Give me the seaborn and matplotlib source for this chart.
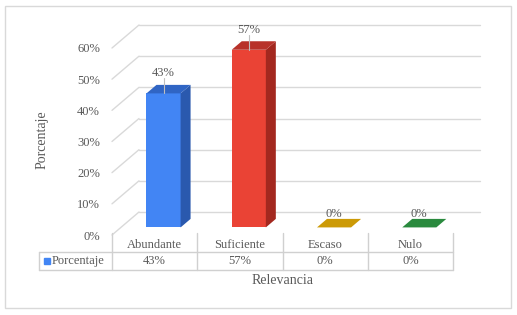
import numpy as np
import pandas as pd
import matplotlib
matplotlib.use("Agg")
import matplotlib.pyplot as plt
import seaborn as sns
from matplotlib.patches import Polygon, Rectangle
from matplotlib.lines import Line2D
from matplotlib.transforms import ScaledTranslation

# ---------------- data ----------------
categories = ["Abundante", "Suficiente", "Escaso", "Nulo"]
values = [0.43, 0.57, 0.0, 0.0]
value_labels = ["43%", "57%", "0%", "0%"]
y_ticks = [0.0, 0.1, 0.2, 0.3, 0.4, 0.5, 0.6]
y_tick_labels = ["0%", "10%", "20%", "30%", "40%", "50%", "60%"]
series_name = "Porcentaje"
x_title = "Relevancia"
y_title = "Porcentaje"

# ---------------- style ----------------
front_colors = ["#4285F4", "#EA4335", "#CC9A06", "#2A8A3E"]
side_colors = ["#2A59AE", "#A3281F", "#A07800", "#1E6B2E"]
top_colors = ["#3065C4", "#B8322A", "#CC9A06", "#2A8A3E"]
text_color = "#595959"
grid_color = "#D9D9D9"
table_color = "#D0D0D0"

sns.set_theme(style="white")
plt.rcParams["font.family"] = ["Liberation Serif", "DejaVu Serif"]

DPI = 100
W, H = 517, 315
fig = plt.figure(figsize=(W / DPI, H / DPI), dpi=DPI)
fig.patch.set_facecolor("white")
# front plane of the 3D box
AX_L, AX_B, AX_W, AX_H = 112, 235, 341, 187
ax = fig.add_axes([AX_L / W, (H - AX_B) / H, AX_W / W, AX_H / H])

df = pd.DataFrame({"cat": categories, "val": values})
sns.barplot(data=df, x="cat", y="val", hue="cat", palette=front_colors,
            width=0.4, legend=False, ax=ax, linewidth=0, saturation=1)

ax.set_xlim(-0.5, 3.5)
ax.set_ylim(0, 0.6)
ax.patch.set_visible(False)
for s in ax.spines.values():
    s.set_visible(False)
ax.grid(False)

# oblique depth (pixels): full depth of the box, bar front / back fractions
DX, DY = 27.0, 23.0
F0, F1 = 0.33, 0.70


def disp(x, y):
    return ax.transData.transform((x, y))


def inch(p, depth=0.0, ox=0.0, oy=0.0):
    return ((p[0] + depth * DX + ox) / DPI, (p[1] + depth * DY + oy) / DPI)


TR = fig.dpi_scale_trans

# back wall gridlines and left wall diagonals
for yv in y_ticks:
    p0 = disp(-0.5, yv)
    p1 = disp(3.5, yv)
    a, b = inch(p0, 1), inch(p1, 1)
    ax.add_line(Line2D([a[0], b[0]], [a[1], b[1]], transform=TR, color=grid_color,
                       lw=1.0, zorder=0.5, clip_on=False))
    c = inch(p0, 0)
    ax.add_line(Line2D([c[0], a[0]], [c[1], a[1]], transform=TR, color=grid_color,
                       lw=1.0, zorder=0.5, clip_on=False))

# bars: move front faces to bar-front depth, add side and top faces
shift = ScaledTranslation(F0 * DX / DPI, F0 * DY / DPI, fig.dpi_scale_trans)
for i, patch in enumerate(ax.patches[:len(categories)]):
    patch.set_transform(ax.transData + shift)
    patch.set_zorder(2)
    x0, w, h = patch.get_x(), patch.get_width(), patch.get_height()
    bl, br = disp(x0, 0), disp(x0 + w, 0)
    tl, tr = disp(x0, h), disp(x0 + w, h)
    if h > 0:
        side = [inch(br, F0), inch(tr, F0), inch(tr, F1), inch(br, F1)]
        ax.add_patch(Polygon(side, closed=True, transform=TR, facecolor=side_colors[i],
                             edgecolor="none", zorder=2, clip_on=False))
    top = [inch(tl, F0), inch(tr, F0), inch(tr, F1), inch(tl, F1)]
    ax.add_patch(Polygon(top, closed=True, transform=TR, facecolor=top_colors[i],
                         edgecolor="none", zorder=2.1, clip_on=False))
    # data label with leader line
    ctop = disp(x0 + w / 2, h)
    off = 20 if h > 0 else 13
    lx, ly = inch(ctop, F0, 0, off)
    ax.text(lx, ly, value_labels[i], transform=TR, ha="center", va="center",
            fontsize=9, color=text_color, zorder=4)
    if h > 0:
        s0 = inch(ctop, F0, 0, off - 5)
        s1 = inch(ctop, F0, 0, 0)
        ax.add_line(Line2D([s0[0], s1[0]], [s0[1], s1[1]], transform=TR,
                           color="#BFBFBF", lw=0.8, zorder=3, clip_on=False))

ax.set_xlim(-0.5, 3.5)
ax.set_ylim(0, 0.6)

# ticks
ax.set_yticks(y_ticks, y_tick_labels)
ax.tick_params(axis="y", length=0, pad=8.6, labelsize=9, labelcolor=text_color)
ax.set_xticks(range(len(categories)), categories)
ax.tick_params(axis="x", length=0, pad=3, labelsize=9, labelcolor=text_color)

# data table
base = disp(0, 0)
left_px = disp(-0.5, 0)[0]
right_px = disp(3.5, 0)[0]
legend_left = left_px - 73
for yoff in (-17, -35):
    a = inch((legend_left, base[1]), 0, 0, yoff)
    b = inch((right_px, base[1]), 0, 0, yoff)
    ax.add_line(Line2D([a[0], b[0]], [a[1], b[1]], transform=TR, color=table_color,
                       lw=1.0, zorder=1, clip_on=False))
for xv in np.arange(-0.5, len(categories), 1.0):
    px = disp(xv, 0)[0]
    a = inch((px, base[1]), 0, 0, 2)
    b = inch((px, base[1]), 0, 0, -35)
    ax.add_line(Line2D([a[0], b[0]], [a[1], b[1]], transform=TR, color=table_color,
                       lw=1.0, zorder=1, clip_on=False))
a = inch((legend_left, base[1]), 0, 0, -17)
b = inch((legend_left, base[1]), 0, 0, -35)
ax.add_line(Line2D([a[0], b[0]], [a[1], b[1]], transform=TR, color=table_color,
                   lw=1.0, zorder=1, clip_on=False))

for i, lab in enumerate(value_labels):
    p = inch(disp(i, 0), 0, 0, -26)
    ax.text(p[0], p[1], lab, transform=TR, ha="center", va="center",
            fontsize=9, color=text_color)

m = inch((left_px - 65, base[1]), 0, 0, -26)
ax.add_line(Line2D([m[0]], [m[1]], transform=TR, marker="s", markersize=4.2,
                   color=front_colors[0], linestyle="none", clip_on=False))
t = inch((left_px - 60, base[1]), 0, 0, -26)
ax.text(t[0], t[1], series_name, transform=TR, ha="left", va="center",
        fontsize=9, color=text_color)

# axis titles
ax.set_xlabel(x_title, fontsize=10, color=text_color)
ax.xaxis.set_label_coords(0.5, -46 / AX_H)
ax.xaxis.label.set_verticalalignment("center")
ax.set_ylabel(y_title, fontsize=10, color=text_color)
ax.yaxis.set_label_coords(-70 / AX_W, 0.508)
ax.yaxis.label.set_verticalalignment("center")

# outer border
fig.add_artist(Rectangle((5 / W, 7 / H), 506 / W, 302 / H, transform=fig.transFigure,
                         fill=False, edgecolor="#D9D9D9", lw=1.0))

fig.savefig("out.png", dpi=DPI)
